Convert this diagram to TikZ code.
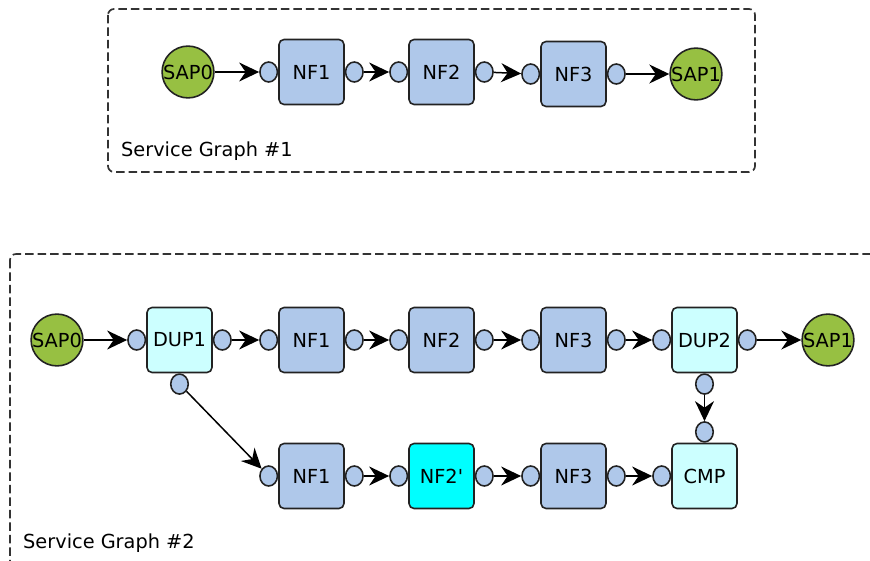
\documentclass[tikz,border=0pt]{standalone}
\usepackage{fontspec}
\setmainfont{DejaVu Sans}
\usetikzlibrary{arrows.meta, shapes.geometric}

\definecolor{nfblue}{HTML}{AFC8EA}
\definecolor{dupcyan}{HTML}{CCFFFF}
\definecolor{nfcyan}{HTML}{00FFFF}
\definecolor{sapgreen}{HTML}{97C042}
\definecolor{edgegray}{HTML}{222222}
\definecolor{framegray}{HTML}{333333}

\begin{document}
\begin{tikzpicture}[x=0.02cm, y=-0.02cm,
    every node/.style={font=\fontsize{11}{13}\selectfont},
    nf/.style={rectangle, rounded corners=0.1cm, minimum size=1.3cm, inner sep=0pt,
      draw=edgegray, line width=0.9pt, fill=nfblue},
    dup/.style={nf, fill=dupcyan},
    sap/.style={circle, minimum size=0.96cm, inner sep=0pt,
      draw=edgegray, line width=0.9pt, fill=sapgreen},
    port/.style={ellipse, minimum width=0.35cm, minimum height=0.4cm, inner sep=0pt,
      draw=edgegray, line width=0.9pt, fill=nfblue},
    flow/.style={-{Stealth[length=0.4cm, width=0.38cm, inset=0.13cm]}, line width=0.85pt},
    sgframe/.style={draw=framegray, line width=0.95pt, dash pattern=on 0.17cm off 0.08cm,
      rounded corners=0.12cm}]
    % Keep the page at the size of the reference
    \useasboundingbox (0,0) rectangle (870,561);
    \clip (0,0) rectangle (870,561);

    % Service graph 1
    \draw[sgframe] (108,9) rectangle (755,172);
    \node[anchor=west] (sg1) at (115,151) {Service Graph \#1};

    \node[sap] (sap0) at (188,72) {SAP0};
    \node[nf] (a1) at (311.5,72) {NF1};
    \node[nf] (a2) at (441.5,72) {NF2};
    \node[nf] (a3) at (573.5,74) {NF3};
    \node[sap] (sap1) at (696,74) {SAP1};

    % Service graph 2 (runs off the page on the right and at the bottom)
    \draw[sgframe] (10,254) rectangle (900,620);
    \node[anchor=west] (sg2) at (17,543) {Service Graph \#2};

    \node[sap] (bsap0) at (57,340) {SAP0};
    \node[dup] (dup1) at (179.5,340) {DUP1};
    \node[nf] (b1) at (311.5,340) {NF1};
    \node[nf] (b2) at (441.5,340) {NF2};
    \node[nf] (b3) at (573.5,340) {NF3};
    \node[dup] (dup2) at (704.5,340) {DUP2};
    \node[sap] (bsap1) at (828,340) {SAP1};

    \node[nf] (c1) at (311.5,476) {NF1};
    \node[nf, fill=nfcyan] (c2) at (441.5,476) {NF2\textquotesingle};
    \node[nf] (c3) at (573.5,476) {NF3};
    \node[dup] (cmp) at (704.5,476) {CMP};

    % Ports on the sides of the boxes
    \foreach \n in {a1,a2,a3,dup1,b1,b2,b3,dup2,c1,c2,c3,cmp} {
      \node[port, anchor=east] (\n-in) at (\n.west) {};
    }
    \foreach \n in {a1,a2,a3,dup1,b1,b2,b3,dup2,c1,c2,c3} {
      \node[port, anchor=west] (\n-out) at (\n.east) {};
    }
    \node[port, anchor=north] (dup1-dn) at (dup1.south) {};
    \node[port, anchor=north] (dup2-dn) at (dup2.south) {};
    \node[port, anchor=south] (cmp-up) at (cmp.north) {};

    % Chain 1
    \draw[flow] (sap0) -- (a1-in);
    \draw[flow] (a1-out) -- (a2-in);
    \draw[flow] (a2-out) -- (a3-in);
    \draw[flow] (a3-out) -- (sap1);

    % Chain 2, upper branch
    \draw[flow] (bsap0) -- (dup1-in);
    \draw[flow] (dup1-out) -- (b1-in);
    \draw[flow] (b1-out) -- (b2-in);
    \draw[flow] (b2-out) -- (b3-in);
    \draw[flow] (b3-out) -- (dup2-in);
    \draw[flow] (dup2-out) -- (bsap1);

    % Chain 2, lower branch
    \draw[flow] (dup1-dn) -- (c1-in);
    \draw[flow] (c1-out) -- (c2-in);
    \draw[flow] (c2-out) -- (c3-in);
    \draw[flow] (c3-out) -- (cmp-in);
    \draw[flow] (dup2-dn) -- (cmp-up);
  \end{tikzpicture}
\end{document}
